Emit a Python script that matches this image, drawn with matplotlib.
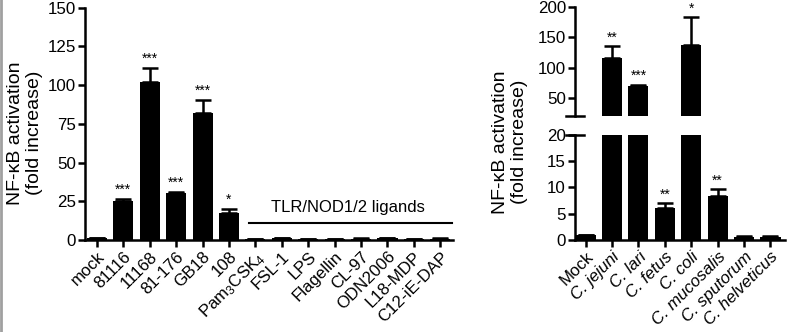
import matplotlib
matplotlib.use("Agg")
import matplotlib.pyplot as plt
from matplotlib.lines import Line2D
import numpy as np

plt.rcParams['font.family'] = ['Liberation Sans', 'DejaVu Sans']
plt.rcParams['mathtext.fontset'] = 'custom'
plt.rcParams['mathtext.rm'] = 'Liberation Sans'
plt.rcParams['mathtext.it'] = 'Liberation Sans:italic'

# Panel A: strains and TLR/NOD ligands
left_labels = ['mock', '81116', '11168', '81-176', 'GB18', '108', 'Pam$_3$CSK$_4$',
               'FSL-1', 'LPS', 'Flagellin', 'CL-97', 'ODN2006', 'L18-MDP', 'C12-iE-DAP']
left_values = [1.0, 25.2, 102.0, 30.1, 82.1, 17.2, 0.6, 1.2, 0.5, 0.6, 0.8, 1.1, 0.5, 0.8]
left_errors = [0.0, 1.3, 8.7, 0.7, 8.2, 2.6, 0.2, 0.3, 0.1, 0.2, 0.2, 0.3, 0.1, 0.2]
left_stars = ['', '***', '***', '***', '***', '*', '', '', '', '', '', '', '', '']

# Panel B: Campylobacter species
right_labels = ['Mock', 'C. jejuni', 'C. lari', 'C. fetus', 'C. coli',
                'C. mucosalis', 'C. sputorum', 'C. helveticus']
right_values = [0.9, 116.7, 68.9, 6.0, 137.2, 8.4, 0.6, 0.5]
right_errors = [0.0, 19.0, 2.8, 1.1, 46.0, 1.3, 0.2, 0.2]
right_stars = ['', '**', '***', '**', '*', '**', '', '']

YLABEL = 'NF-κB activation\n(fold increase)'

fig = plt.figure(figsize=(8.0, 3.32), dpi=100)

LW = 1.8
BAR_W = 0.76
FS = 12.2
FS_LAB = 14


def style(ax):
    for s in ['top', 'right']:
        ax.spines[s].set_visible(False)
    for s in ['left', 'bottom']:
        ax.spines[s].set_linewidth(LW)
    ax.tick_params(width=LW, length=5, labelsize=FS, pad=1.5)


def draw_bars(ax, vals, errs):
    x = np.arange(len(vals))
    ax.bar(x, vals, width=BAR_W, color='black', zorder=2)
    ax.errorbar(x, vals, yerr=[np.zeros(len(vals)), errs], fmt='none',
                ecolor='black', elinewidth=LW, capsize=5.5, capthick=LW, zorder=3)
    return x


# ---- left panel ----
axL = fig.add_axes([0.10625, 0.2771, 0.4600, 0.7003])
xL = draw_bars(axL, left_values, left_errors)
axL.set_xlim(-0.45, 13.48)
axL.set_ylim(0, 150)
axL.set_yticks([0, 25, 50, 75, 100, 125, 150])
axL.set_xticks(xL)
axL.set_xticklabels(left_labels, rotation=45, ha='right', rotation_mode='anchor')
style(axL)
for xi, v, e, s in zip(xL, left_values, left_errors, left_stars):
    if s:
        axL.text(xi, v + e + 1.5, s, ha='center', va='bottom', fontsize=10)
axL.plot([5.76, 13.45], [10.9, 10.9], color='black', lw=1.5, clip_on=False)
axL.text(9.5, 21.2, 'TLR/NOD1/2 ligands', ha='center', va='center', fontsize=12)

fig.text(0.031, 0.60, YLABEL, rotation=90, ha='center', va='center',
         fontsize=FS_LAB, linespacing=1.15)

# ---- right panel (broken y axis) ----
rx0, rw = 0.71875, 0.2625
axB = fig.add_axes([rx0, 0.2771, rw, 0.3163])
axT = fig.add_axes([rx0, 0.6512, rw, 0.3268])
xR = draw_bars(axB, right_values, right_errors)
draw_bars(axT, right_values, right_errors)
for ax in (axB, axT):
    ax.set_xlim(-0.4, 7.55)
    style(ax)
axB.set_ylim(0, 20)
axB.set_yticks([0, 5, 10, 15, 20])
axT.set_ylim(20, 200)
axT.set_yticks([50, 100, 150, 200])
axT.spines['bottom'].set_visible(False)
axT.tick_params(axis='x', bottom=False, labelbottom=False)
axB.set_xticks(xR)
axB.set_xticklabels(right_labels, rotation=45, ha='right', rotation_mode='anchor')
for lab in axB.get_xticklabels()[1:]:
    lab.set_fontstyle('italic')

# break markers on the y axis
for ax, yv in ((axT, 0.0), (axB, 1.0)):
    ax.plot([-0.045, 0.045], [yv, yv], transform=ax.transAxes, color='black',
            lw=LW, clip_on=False)

for xi, v, e, s in zip(xR, right_values, right_errors, right_stars):
    if not s:
        continue
    if v > 20:
        axT.text(xi, v + e + 2.5, s, ha='center', va='bottom', fontsize=10)
    else:
        axB.text(xi, v + e + 0.25, s, ha='center', va='bottom', fontsize=10)

fig.text(0.638, 0.572, YLABEL, rotation=90, ha='center', va='center',
         fontsize=FS_LAB, linespacing=1.15)

# thin grey frame line at the left edge
fig.add_artist(Line2D([0.0015, 0.0015], [0, 1], transform=fig.transFigure,
                      color='#a0a0a0', lw=2))

fig.savefig('out.png', dpi=100)
